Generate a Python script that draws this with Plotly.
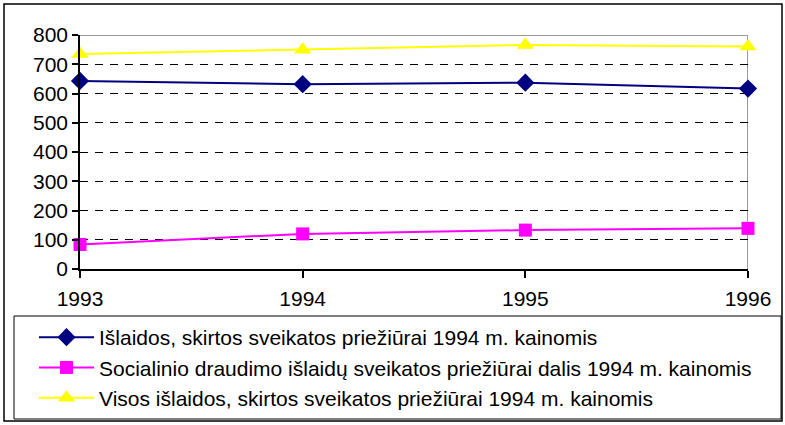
import plotly.graph_objects as go

years = [1993, 1994, 1995, 1996]
islaidos = [643, 632, 637, 617]
socialinio = [84, 120, 133, 139]
visos = [735, 750, 766, 761]
y_ticks = [0, 100, 200, 300, 400, 500, 600, 700, 800]
names = [
    "Išlaidos, skirtos sveikatos priežiūrai 1994 m. kainomis",
    "Socialinio draudimo išlaidų sveikatos priežiūrai dalis 1994 m. kainomis",
    "Visos išlaidos, skirtos sveikatos priežiūrai 1994 m. kainomis",
]

W, H = 785, 425
L, R, T, B = 80, 37, 35, 156
pw, ph = W - L - R, H - T - B

def px_x(x):
    return (x - L) / pw

def px_y(y):
    return (H - B - y) / ph

fig = go.Figure()
fig.add_trace(go.Scatter(x=years, y=islaidos, name=names[0], mode="lines+markers",
                         line=dict(color="#000080", width=2),
                         marker=dict(symbol="diamond", size=14, color="#000080"),
                         cliponaxis=False))
fig.add_trace(go.Scatter(x=years, y=socialinio, name=names[1], mode="lines+markers",
                         line=dict(color="#FF00FF", width=2),
                         marker=dict(symbol="square", size=13, color="#FF00FF"),
                         cliponaxis=False))
fig.add_trace(go.Scatter(x=years, y=visos, name=names[2], mode="lines+markers",
                         line=dict(color="#FFFF00", width=2),
                         marker=dict(symbol="triangle-up", size=15, color="#FFFF00"),
                         cliponaxis=False))

font = "Liberation Sans, Arial, sans-serif"

fig.update_layout(
    width=W, height=H,
    margin=dict(l=L, r=R, t=T, b=B, autoexpand=False),
    paper_bgcolor="white", plot_bgcolor="white",
    font=dict(family=font, size=21, color="black"),
    showlegend=True,
    legend=dict(
        x=px_x(34), y=px_y(317), xanchor="left", yanchor="top",
        font=dict(family=font, size=21, color="black"),
        bgcolor="rgba(0,0,0,0)", borderwidth=0,
        itemwidth=55, traceorder="normal",
    ),
    xaxis=dict(
        range=[years[0], years[-1]], tickvals=years, ticktext=[str(y) for y in years],
        showgrid=False, zeroline=False,
        showline=True, linecolor="black", linewidth=1.5,
        ticks="outside", ticklen=7, tickcolor="black", tickwidth=1.5,
        ticklabelstandoff=3,
        tickfont=dict(size=21), fixedrange=True,
    ),
    yaxis=dict(
        range=[y_ticks[0], y_ticks[-1]], tickvals=y_ticks,
        showgrid=True, gridcolor="black", gridwidth=1, griddash="8px,7px",
        zeroline=False,
        showline=True, linecolor="black", linewidth=1.5,
        ticks="outside", ticklen=6, tickcolor="black", tickwidth=1.5,
        tickfont=dict(size=21), fixedrange=True,
    ),
    shapes=[
        dict(type="line", xref="x", yref="y", x0=years[0], x1=years[-1],
             y0=y_ticks[-1], y1=y_ticks[-1],
             line=dict(color="#999999", width=2), layer="below"),
        dict(type="line", xref="x", yref="y", x0=years[-1], x1=years[-1],
             y0=y_ticks[0], y1=y_ticks[-1],
             line=dict(color="#999999", width=2), layer="below"),
        dict(type="rect", xref="paper", yref="paper",
             x0=px_x(14), x1=px_x(781), y0=px_y(419), y1=px_y(316),
             line=dict(color="black", width=1), layer="above"),
        dict(type="rect", xref="paper", yref="paper",
             x0=px_x(4), x1=px_x(782), y0=px_y(421), y1=px_y(4),
             line=dict(color="black", width=1.5), layer="above"),
    ],
)

fig.write_html("out.html", config={"displayModeBar": False},
               post_script="document.body.style.margin='0';")
